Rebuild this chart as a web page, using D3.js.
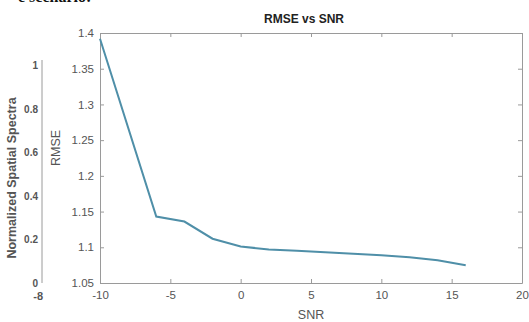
<!DOCTYPE html>
<html>
<head>
<meta charset="utf-8">
<script src="https://cdn.jsdelivr.net/npm/d3@7"></script>
<style>
  body { margin: 0; background: #fff; }
  svg { display: block; font-family: Arial, "Liberation Sans", sans-serif; }
</style>
</head>
<body>
<svg id="chart" width="529" height="322"></svg>
<script>
// Data
const snr = [-10, -6, -4, -2, 0, 2, 4, 6, 8, 10, 12, 14, 16];
const rmse = [1.392, 1.143, 1.136, 1.112, 1.101, 1.097, 1.095, 1.093, 1.091, 1.089, 1.086, 1.082, 1.075];
const xTicks = [-10, -5, 0, 5, 10, 15, 20];
const yTicks = [1.05, 1.1, 1.15, 1.2, 1.25, 1.3, 1.35, 1.4];
const backTicks = [0, 0.2, 0.4, 0.6, 0.8, 1];

const svg = d3.select('#chart');
const axisColor = '#9a9a9a';
const textColor = '#555';

// Cut-off text line at the very top of the page
svg.append('text').attr('x', 18).attr('y', 2)
    .attr('font-family', '"Liberation Serif", serif').attr('font-weight', 'bold')
    .attr('font-size', 16).attr('fill', '#111').text('e scenario:');

// Background figure (Normalized Spatial Spectra) peeking from the left
const yBack = d3.scaleLinear().domain([0, 1]).range([283, 65]);
const gBack = svg.append('g');
gBack.append('line').attr('x1', 42).attr('x2', 42).attr('y1', 60).attr('y2', 283)
    .attr('stroke', axisColor);
gBack.selectAll('text.tick').data(backTicks).enter().append('text')
    .attr('x', 38).attr('y', d => yBack(d) + 4)
    .attr('text-anchor', 'end').attr('font-size', 10).attr('font-weight', 'bold')
    .attr('fill', textColor).text(d => d);
gBack.append('text').attr('x', 43).attr('y', 300).attr('text-anchor', 'end')
    .attr('font-size', 11).attr('font-weight', 'bold').attr('fill', textColor).text('-8');
gBack.append('text')
    .attr('transform', `translate(16,${(yBack(0) + yBack(1)) / 2 + 4}) rotate(-90)`)
    .attr('text-anchor', 'middle').attr('font-size', 12.5).attr('font-weight', 'bold')
    .attr('fill', textColor).text('Normalized Spatial Spectra');

// Main plot
const margin = { top: 33, right: 7, bottom: 39, left: 100 };
const width = 529 - margin.left - margin.right;
const height = 322 - margin.top - margin.bottom;

const x = d3.scaleLinear().domain([-10, 20]).range([0, width]);
const y = d3.scaleLinear().domain([1.05, 1.4]).range([height, 0]);

const g = svg.append('g').attr('transform', `translate(${margin.left},${margin.top})`);

// Axes (MATLAB style: inward ticks, box on)
const styleAxis = sel => {
    sel.select('.domain').attr('stroke', axisColor);
    sel.selectAll('.tick line').attr('stroke', axisColor);
    sel.selectAll('.tick text').attr('fill', textColor).attr('font-size', 11.5);
};

g.append('g').attr('transform', `translate(0,${height})`)
    .call(d3.axisBottom(x).tickValues(xTicks).tickSize(-4).tickSizeOuter(0).tickPadding(8)
        .tickFormat(d => String(d)))
    .call(styleAxis);
g.append('g')
    .call(d3.axisTop(x).tickValues(xTicks).tickSize(-4).tickSizeOuter(0).tickFormat(''))
    .call(styleAxis);
g.append('g')
    .call(d3.axisLeft(y).tickValues(yTicks).tickSize(-4).tickSizeOuter(0).tickPadding(6)
        .tickFormat(d => String(+d.toFixed(2))))
    .call(styleAxis);
g.append('g').attr('transform', `translate(${width},0)`)
    .call(d3.axisRight(y).tickValues(yTicks).tickSize(-4).tickSizeOuter(0).tickFormat(''))
    .call(styleAxis);

// Line
const line = d3.line().x((d, i) => x(snr[i])).y(d => y(d));
g.append('path').datum(rmse)
    .attr('fill', 'none').attr('stroke', '#4f8fa8').attr('stroke-width', 2)
    .attr('d', line);

// Labels
g.append('text').attr('x', width / 2 - 7).attr('y', -10)
    .attr('text-anchor', 'middle').attr('font-size', 12).attr('font-weight', 'bold')
    .attr('fill', '#222').text('RMSE vs SNR');
g.append('text').attr('x', x(5)).attr('y', height + 36)
    .attr('text-anchor', 'middle').attr('font-size', 12.5).attr('fill', textColor).text('SNR');
g.append('text')
    .attr('transform', `translate(-40,${height / 2 - 10}) rotate(-90)`)
    .attr('text-anchor', 'middle').attr('font-size', 12.5).attr('fill', textColor).text('RMSE');
</script>
</body>
</html>
